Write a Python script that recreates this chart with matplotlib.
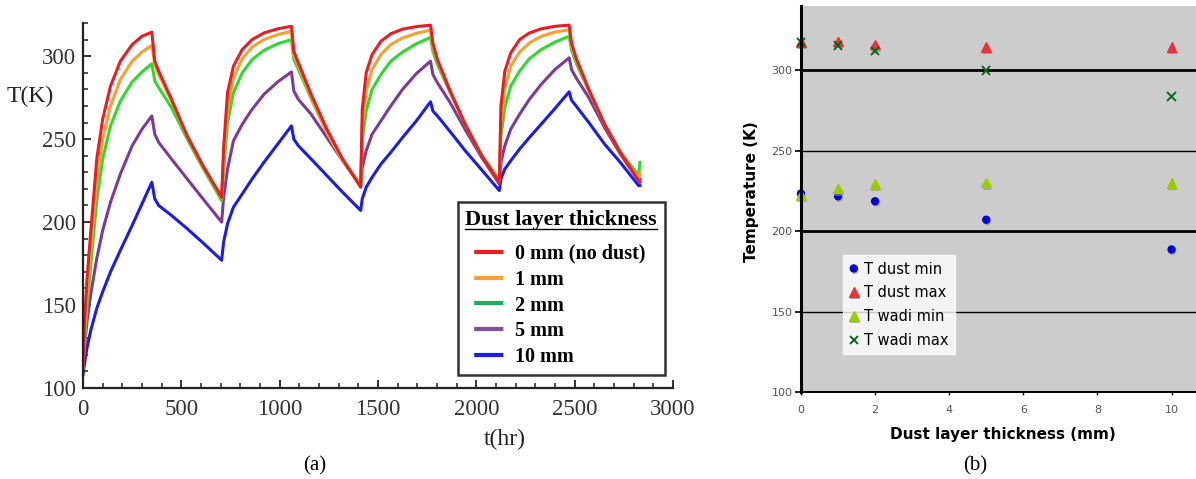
import numpy as np
import matplotlib.pyplot as plt
from matplotlib.lines import Line2D
from matplotlib.ticker import MultipleLocator
import matplotlib.patheffects as pe

# ---- panel (a): surface temperature vs time ----
# shared time grid (hr), 4 day/night cycles
t_hr = [0, 8, 20, 40, 70, 100, 140, 190, 250, 300, 350,
        365, 385, 450, 530, 610, 705,
        715, 735, 765, 810, 860, 920, 990, 1060,
        1072, 1095, 1160, 1240, 1320, 1412,
        1420, 1440, 1470, 1515, 1565, 1625, 1695, 1767,
        1779, 1802, 1867, 1947, 2027, 2117,
        2125, 2145, 2175, 2220, 2270, 2330, 2400, 2472,
        2484, 2507, 2572, 2652, 2732, 2825, 2832]

T_0mm = [112, 140, 165, 195, 238, 262, 282, 297, 307, 312, 314.5,
         297, 291, 274, 252, 234, 215,
         245, 278, 294, 304, 310, 314, 316.5, 318,
         303, 296, 277, 256, 238, 221,
         268, 290, 301, 309, 313.5, 316.3, 317.8, 318.7,
         308, 298, 279, 258, 240, 224,
         270, 291, 302, 310, 314, 316.5, 318, 318.7,
         308, 299, 280, 259, 242, 225, 224]

T_1mm = [112, 132, 155, 185, 225, 250, 270, 286, 297, 302.5, 306.5,
         295, 289, 273, 251.5, 233.5, 214.5,
         238, 268, 287, 298.5, 305.5, 310, 313, 315,
         301, 294, 275.5, 254, 237, 221.5,
         258, 279, 292, 301, 307, 311, 313.8, 315.7,
         306, 297, 278.5, 258, 240, 224.5,
         260, 281, 294, 302.5, 308, 312, 314.5, 316,
         306.5, 298, 279.5, 259, 242, 226, 230]

T_2mm = [112, 128, 148, 175, 213, 238, 258, 273, 284.5, 290.5, 295.5,
         285, 281, 269, 250, 232.5, 213,
         232, 260, 278, 290, 298, 303.5, 307.5, 310,
         298, 292, 274.5, 254, 237.5, 222.5,
         250, 267, 280, 289, 297, 302.5, 307.5, 311.3,
         303, 295, 278, 258, 240.5, 225.5,
         252, 269, 282, 291, 298.5, 304, 308.5, 312,
         304, 296, 279, 259, 242.5, 228, 236]

T_5mm = [112, 125, 140, 157, 178, 195, 212, 229, 246, 256, 264,
         253, 248, 238, 226, 214, 200,
         215, 232, 249, 259, 268, 277, 284.5, 290.5,
         279, 274, 265, 251, 237, 222,
         233, 243, 253, 261, 270, 280, 289.5, 297,
         289, 284, 272, 255, 239, 223,
         236, 246, 256, 265, 274, 283, 292, 299,
         292, 287, 275, 257, 241, 225, 226]

T_10mm = [108, 115, 124, 135, 148, 158, 170, 183, 198, 211, 224,
          214, 210, 204, 196, 187.5, 177,
          188, 199, 209, 217, 226, 236, 247, 258,
          250, 246, 238, 228, 218, 207,
          214, 221, 227, 235, 242, 251, 261, 272.5,
          267, 264, 254.5, 242.5, 231.5, 219,
          226, 232, 237, 244, 251, 259, 268.5, 278.5,
          273.5, 270, 260, 247, 236, 222, 222]

series_a = [T_0mm, T_1mm, T_2mm, T_5mm, T_10mm]
labels_a = ['0 mm (no dust)', '1 mm', '2 mm', '5 mm', '10 mm']
colors_a = ['#ec1c24', '#f6a030', '#2fd92f', '#7e3a96', '#1c1ce8']
legend_colors_a = ['#ec1c24', '#f6a030', '#1fae5b', '#7f4fa0', '#1c1ce8']

# ---- panel (b): min / max temperatures vs dust thickness ----
thickness = [0, 1, 2, 5, 10]
t_dust_min = [223.4, 221.7, 218.6, 207.1, 188.6]
t_dust_max = [317.5, 318.0, 316.0, 314.4, 314.6]
t_wadi_min = [222.7, 226.5, 229.2, 230.2, 229.8]
t_wadi_max = [317.5, 315.4, 311.9, 299.8, 283.8]

serif = 'Liberation Serif'

fig = plt.figure(figsize=(11.96, 4.79), dpi=100)

# ================= left panel =================
ax = fig.add_axes([0.0694, 0.19, 0.4933, 0.762])
for T, c in reversed(list(zip(series_a, colors_a))):
    ax.plot(t_hr, T, color=c, lw=2.2, solid_joinstyle='round')

ax.set_xlim(0, 3000)
ax.set_ylim(100, 320)
ax.spines['top'].set_visible(False)
ax.spines['right'].set_visible(False)
for s in ('left', 'bottom'):
    ax.spines[s].set_linewidth(1.6)
    ax.spines[s].set_color('#222222')
ax.xaxis.set_major_locator(MultipleLocator(500))
ax.xaxis.set_minor_locator(MultipleLocator(100))
ax.yaxis.set_major_locator(MultipleLocator(50))
ax.yaxis.set_minor_locator(MultipleLocator(10))
ax.tick_params(which='major', direction='in', length=6, width=1.3, color='#222222',
               labelsize=16.5, labelcolor='#333333')
ax.tick_params(axis='x', which='major', pad=8)
ax.tick_params(axis='y', which='major', pad=5)
ax.tick_params(which='minor', direction='in', length=3.5, width=1.1, color='#222222')
for lab in ax.get_xticklabels() + ax.get_yticklabels():
    lab.set_fontfamily(serif)

ax.set_ylabel('T(K)', rotation=0, fontsize=17, family=serif, color='#222222',
              ha='center', va='center')
ax.yaxis.set_label_coords(-0.09, 0.80)
ax.set_xlabel('t(hr)', fontsize=17, family=serif, color='#222222',
              ha='center', va='center')
ax.xaxis.set_label_coords(0.715, -0.142)

# legend handles are indented a little from the title, like the original
handles = [Line2D([], [], color=c, lw=3, solid_capstyle='butt', dash_capstyle='butt',
                  ls=(0, (0, 2.2, 7.0, 100))) for c in legend_colors_a]
leg = ax.legend(handles, labels_a, title='Dust layer thickness',
                loc='lower right', bbox_to_anchor=(0.986, 0.036),
                prop={'family': serif, 'weight': 'bold', 'size': 14.5},
                title_fontproperties={'family': serif, 'weight': 'bold', 'size': 16},
                alignment='left', frameon=True, fancybox=False,
                handlelength=1.95, handletextpad=0.5, labelspacing=0.29,
                borderpad=0.38, borderaxespad=0)
leg.get_frame().set_edgecolor('black')
leg.get_frame().set_linewidth(1.8)
leg._legend_box.sep += 6   # extra gap under the title

fig.text(315 / 1196, 1 - 466 / 479, '(a)', family=serif, fontsize=15,
         ha='center', va='center')

# ================= right panel =================
ax2 = fig.add_axes([0.6697, 0.1816, 0.3303, 0.8059])
ax2.set_facecolor('#cccccc')
shadow = [pe.SimplePatchShadow(offset=(0.8, -1.6), shadow_rgbFace='#888888', alpha=0.6),
          pe.Normal()]
ax2.plot(thickness, t_dust_min, ls='none', marker='o', ms=5, color='#0000dd',
         label='T dust min', clip_on=False, path_effects=shadow)
ax2.plot(thickness, t_dust_max, ls='none', marker='^', ms=7, color='#e4343a',
         label='T dust max', clip_on=False, path_effects=shadow)
ax2.plot(thickness, t_wadi_min, ls='none', marker='^', ms=7, color='#99cc00',
         label='T wadi min', clip_on=False, path_effects=shadow)
ax2.plot(thickness, t_wadi_max, ls='none', marker='x', ms=6, mew=1.4, color='#006a1a',
         label='T wadi max', clip_on=False, path_effects=shadow)

ax2.set_xlim(0, 10.66)
ax2.set_ylim(100, 340)
ax2.set_yticks([100, 150, 200, 250, 300])
ax2.set_xticks([0, 2, 4, 6, 8, 10])
ax2.grid(axis='y', color='black')
for gl, v in zip(ax2.get_ygridlines(), ax2.get_yticks()):
    gl.set_linewidth(2.0 if v in (200, 300) else 1.0)
ax2.set_axisbelow(True)
ax2.spines['top'].set_visible(False)
ax2.spines['right'].set_visible(False)
ax2.spines['left'].set_linewidth(2.2)
ax2.spines['bottom'].set_linewidth(1.4)
ax2.tick_params(axis='y', direction='out', length=4, width=1.2, labelsize=8,
                labelcolor='#555555', pad=2)
ax2.tick_params(axis='x', direction='out', length=2, width=1.0, labelsize=8,
                labelcolor='#555555', pad=7)
ax2.set_ylabel('Temperature (K)', fontsize=11, fontweight='bold')
ax2.yaxis.set_label_coords(-0.105, 0.52)
ax2.set_xlabel('Dust layer thickness (mm)', fontsize=11, fontweight='bold')
ax2.xaxis.set_label_coords(0.51, -0.09)
leg2 = ax2.legend(loc='upper left', bbox_to_anchor=(0.106, 0.355), borderaxespad=0,
                  frameon=True, fancybox=False, fontsize=10.5, handlelength=0.6,
                  handletextpad=0.4, labelspacing=0.6, borderpad=0.45)
leg2.get_frame().set_edgecolor('white')
leg2.get_frame().set_facecolor('white')

fig.text(975 / 1196, 1 - 466 / 479, '(b)', family=serif, fontsize=15,
         ha='center', va='center')

# underline the legend title of panel (a)
fig.canvas.draw()
bb = leg.get_title().get_window_extent(fig.canvas.get_renderer())
inv = fig.transFigure.inverted()
(x0, y0), (x1, _) = inv.transform([(bb.x0, bb.y0 + 1), (bb.x1, bb.y0 + 1)])
fig.add_artist(Line2D([x0, x1], [y0, y0], color='black', lw=1.0))

fig.savefig('out.png', dpi=100)
